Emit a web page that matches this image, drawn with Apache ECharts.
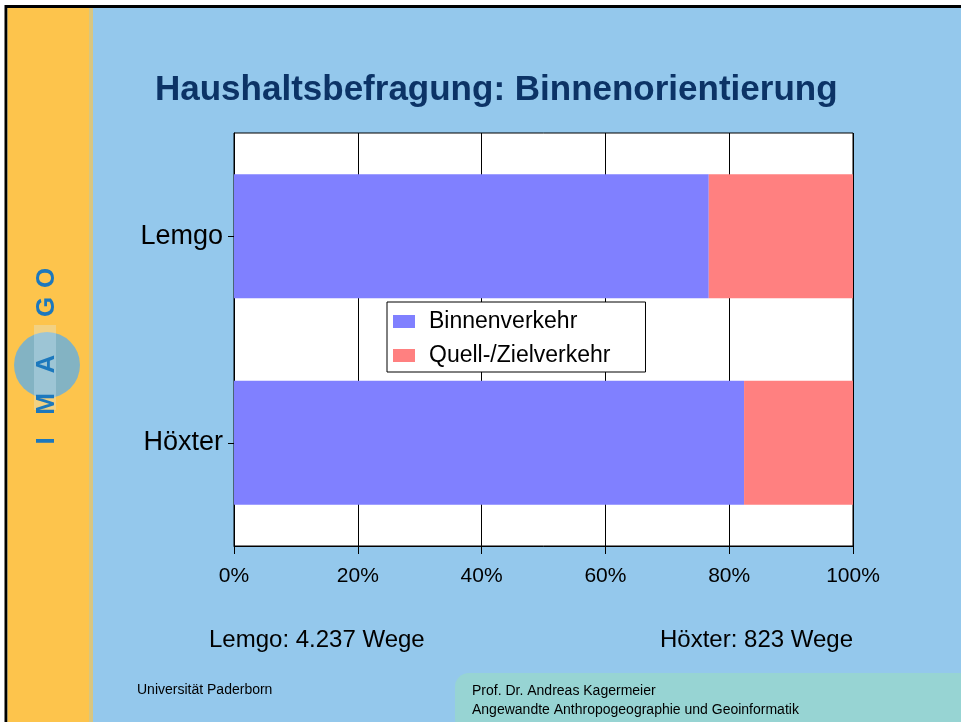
<!DOCTYPE html>
<html>
<head>
<meta charset="utf-8">
<script src="https://cdn.jsdelivr.net/npm/echarts@6/dist/echarts.min.js"></script>
<style>
  html, body { margin: 0; padding: 0; background: #fff; }
  #chart { width: 961px; height: 722px; }
</style>
</head>
<body>
<div id="chart"></div>
<script>
// Daten
var orte = ['Lemgo', 'Höxter'];
var binnenverkehr = [76.7, 82.4];
var quellZielverkehr = [23.3, 17.6];
var serienNamen = ['Binnenverkehr', 'Quell-/Zielverkehr'];
var achsenWerte = [0, 20, 40, 60, 80, 100];
var wegeTexte = ['Lemgo: 4.237 Wege', 'Höxter: 823 Wege'];

var schrift = '"Liberation Sans", Arial, sans-serif';

var chartDom = document.getElementById('chart');
var myChart = echarts.init(chartDom, null, { renderer: 'canvas' });

// IMAGO-Logo Buchstaben (senkrecht)
var logoBuchstaben = [
    { t: 'O', y: 278 },
    { t: 'G', y: 307 },
    { t: 'A', y: 364 },
    { t: 'M', y: 404 },
    { t: 'I', y: 441 }
];
var logoElemente = logoBuchstaben.map(function (b) {
    return {
        type: 'text', z: -5, x: 47, y: b.y, rotation: Math.PI / 2,
        style: { text: b.t, fill: '#1C78BD', font: 'bold 26px ' + schrift, textAlign: 'center', textVerticalAlign: 'middle' }
    };
});

var option = {
    backgroundColor: '#ffffff',
    textStyle: { fontFamily: schrift },
    title: {
        text: 'Haushaltsbefragung: Binnenorientierung',
        left: 150,
        top: 68,
        textStyle: {
            fontSize: 35,
            fontWeight: 'bold',
            color: '#0C3366',
            fontFamily: schrift,
            textShadowColor: 'rgba(90,90,90,0.6)',
            textShadowOffsetX: 2,
            textShadowOffsetY: 2,
            textShadowBlur: 0
        }
    },
    legend: {
        data: serienNamen,
        orient: 'vertical',
        left: 387,
        top: 302,
        backgroundColor: '#ffffff',
        borderColor: '#000000',
        borderWidth: 1,
        borderRadius: 0,
        padding: [8, 35, 5, 6],
        itemGap: 11,
        itemWidth: 22,
        itemHeight: 13,
        icon: 'rect',
        textStyle: { fontSize: 23, color: '#000', lineHeight: 20, padding: [0, 0, 0, 9] }
    },
    grid: {
        left: 234,
        right: 108,
        top: 133,
        bottom: 176,
        show: true,
        backgroundColor: '#ffffff',
        borderColor: '#000000',
        borderWidth: 1
    },
    xAxis: {
        type: 'value',
        min: achsenWerte[0],
        max: achsenWerte[achsenWerte.length - 1],
        interval: achsenWerte[1] - achsenWerte[0],
        axisLine: { show: true, lineStyle: { color: '#000' } },
        axisTick: { show: true, length: 8, lineStyle: { color: '#000' } },
        axisLabel: { formatter: '{value}%', fontSize: 21, color: '#000', margin: 20 },
        splitLine: { show: true, lineStyle: { color: '#000', width: 1 } }
    },
    yAxis: {
        type: 'category',
        inverse: true,
        data: orte,
        axisLine: { show: true, lineStyle: { color: '#000' } },
        axisTick: { show: true, alignWithLabel: true, length: 6, lineStyle: { color: '#000' } },
        axisLabel: { fontSize: 27, color: '#000', margin: 11 },
        splitLine: { show: false }
    },
    series: [
        {
            name: serienNamen[0],
            type: 'bar',
            stack: 'gesamt',
            data: binnenverkehr,
            barCategoryGap: '40%',
            itemStyle: { color: '#8080FF' }
        },
        {
            name: serienNamen[1],
            type: 'bar',
            stack: 'gesamt',
            data: quellZielverkehr,
            barCategoryGap: '40%',
            itemStyle: { color: '#FF8080' }
        }
    ],
    graphic: {
        elements: [
            // Folienhintergrund
            { type: 'rect', z: -20, shape: { x: 6, y: 6.5, width: 1000, height: 800 },
              style: { fill: '#94C8EC', stroke: '#000', lineWidth: 3 } },
            { type: 'rect', z: -19, shape: { x: 7.5, y: 8, width: 82, height: 800 },
              style: { fill: '#FDC44C' } },
            { type: 'rect', z: -19, shape: { x: 89, y: 8, width: 4, height: 800 },
              style: { fill: '#D8C680' } },
            { type: 'rect', z: -19, shape: { x: 455, y: 673, width: 520, height: 60, r: 14 },
              style: { fill: '#97D4D3' } },
            // Logo
            { type: 'circle', z: -6, shape: { cx: 47, cy: 365, r: 33 },
              style: { fill: 'rgba(100,175,225,0.8)' } },
            { type: 'rect', z: -6, shape: { x: 34, y: 325, width: 22, height: 85 },
              style: { fill: 'rgba(220,240,255,0.3)' } }
        ].concat(logoElemente).concat([
            // Wege-Angaben
            { type: 'text', x: 209, y: 640,
              style: { text: wegeTexte[0], fill: '#000', font: '24px ' + schrift, textAlign: 'left', textVerticalAlign: 'middle' } },
            { type: 'text', x: 853, y: 640,
              style: { text: wegeTexte[1], fill: '#000', font: '24px ' + schrift, textAlign: 'right', textVerticalAlign: 'middle' } },
            // Fusszeile
            { type: 'text', x: 137, y: 690,
              style: { text: 'Universität Paderborn', fill: '#000', font: '14px ' + schrift, textVerticalAlign: 'middle' } },
            { type: 'text', x: 472, y: 691,
              style: { text: 'Prof. Dr. Andreas Kagermeier', fill: '#000', font: '14px ' + schrift, textVerticalAlign: 'middle' } },
            { type: 'text', x: 472, y: 710,
              style: { text: 'Angewandte Anthropogeographie und Geoinformatik', fill: '#000', font: '14px ' + schrift, textVerticalAlign: 'middle' } }
        ])
    }
};

myChart.setOption(option);
</script>
</body>
</html>
